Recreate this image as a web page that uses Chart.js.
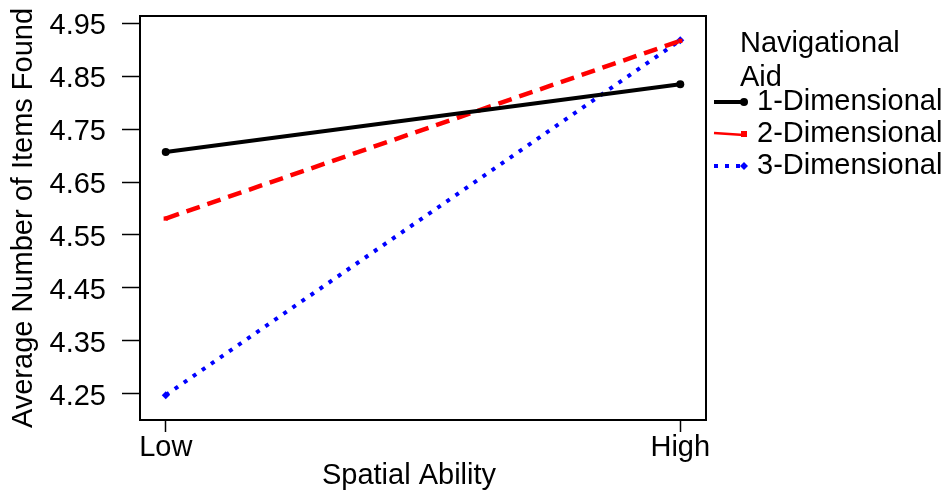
<!DOCTYPE html>
<html>
<head>
<meta charset="utf-8">
<script src="https://cdn.jsdelivr.net/npm/chart.js@4/dist/chart.umd.min.js"></script>
<style>
  body { margin: 0; background: #fff; }
  canvas { display: block; }
</style>
</head>
<body>
<canvas id="chart" width="944" height="491"></canvas>
<script>
// 數據
const spatialLevels = ['Low', 'High'];
const yTickValues = [4.25, 4.35, 4.45, 4.55, 4.65, 4.75, 4.85, 4.95];
const seriesNames = ['1-Dimensional', '2-Dimensional', '3-Dimensional'];
const oneDim = [4.707, 4.835];
const twoDim = [4.581, 4.917];
const threeDim = [4.247, 4.918];
const legendTitle = ['Navigational', 'Aid'];
const xTitle = 'Spatial Ability';
const yTitle = 'Average Number of Items Found';

const FONT = '"Liberation Sans", Arial, Helvetica, sans-serif';
const FSIZE = 29;

function toPoints(values) {
    return values.map((v, i) => ({ x: i, y: v }));
}

// 外框、x 軸標題、圖例
const framePlugin = {
    id: 'frame',
    afterDraw(chart) {
        const ctx = chart.ctx;
        const a = chart.chartArea;
        ctx.save();
        ctx.strokeStyle = '#000';
        ctx.lineWidth = 2;
        ctx.strokeRect(a.left, a.top, a.right - a.left, a.bottom - a.top);

        ctx.font = FSIZE + 'px ' + FONT;
        ctx.fillStyle = '#000';
        ctx.textBaseline = 'middle';
        ctx.textAlign = 'center';
        ctx.fillText(xTitle, 409, 476);

        // legend
        ctx.textAlign = 'left';
        ctx.fillText(legendTitle[0], 740, 44);
        ctx.fillText(legendTitle[1], 740, 78);

        const rows = [102, 134, 166];
        chart.data.datasets.forEach((ds, i) => {
            const y = rows[i];
            ctx.save();
            ctx.strokeStyle = ds.borderColor;
            ctx.lineWidth = i === 1 ? 2.5 : ds.borderWidth;
            ctx.setLineDash(i === 1 ? [] : ds.borderDash);
            ctx.beginPath();
            ctx.moveTo(714, y + (i === 1 ? -1 : 0));
            ctx.lineTo(744, y + (i === 1 ? 1 : 0));
            ctx.stroke();
            ctx.setLineDash([]);
            ctx.fillStyle = ds.borderColor;
            const r = ds.pointRadius;
            ctx.beginPath();
            if (ds.pointStyle === 'rectRot') {
                ctx.moveTo(744, y - r); ctx.lineTo(744 + r, y);
                ctx.lineTo(744, y + r); ctx.lineTo(744 - r, y);
                ctx.closePath();
            } else if (ds.pointStyle === 'rect') {
                ctx.rect(744 - r, y - r, 2 * r, 2 * r);
            } else {
                ctx.arc(744, y, r, 0, Math.PI * 2);
            }
            ctx.fill();
            ctx.restore();
            ctx.fillText(seriesNames[i], 757, y);
        });
        ctx.restore();
    }
};

const ctx = document.getElementById('chart').getContext('2d');
new Chart(ctx, {
    type: 'line',
    data: {
        datasets: [
            {
                label: seriesNames[0],
                data: toPoints(oneDim),
                borderColor: '#000000',
                backgroundColor: '#000000',
                borderWidth: 4,
                borderDash: [],
                pointStyle: 'circle',
                pointRadius: 4,
                pointBorderWidth: 0
            },
            {
                label: seriesNames[1],
                data: toPoints(twoDim),
                borderColor: '#ff0000',
                backgroundColor: '#ff0000',
                borderWidth: 4.5,
                borderDash: [14, 8],
                pointStyle: 'rect',
                pointRadius: 3,
                pointBorderWidth: 0
            },
            {
                label: seriesNames[2],
                data: toPoints(threeDim),
                borderColor: '#0000ff',
                backgroundColor: '#0000ff',
                borderWidth: 4,
                borderDash: [4, 7],
                pointStyle: 'rectRot',
                pointRadius: 4,
                pointBorderWidth: 0
            }
        ]
    },
    options: {
        responsive: false,
        animation: false,
        devicePixelRatio: 1,
        layout: { padding: { top: 0, right: 238, bottom: 0, left: 0 } },
        plugins: {
            legend: { display: false },
            tooltip: { enabled: false }
        },
        scales: {
            x: {
                type: 'linear',
                min: -0.05,
                max: 1.05,
                afterBuildTicks: s => { s.ticks = spatialLevels.map((_, i) => ({ value: i })); },
                afterFit: s => { s.height = 71; },
                border: { display: false },
                grid: {
                    drawOnChartArea: false,
                    tickLength: 12,
                    tickColor: '#000',
                    tickWidth: 1.5
                },
                ticks: {
                    padding: -1,
                    color: '#000',
                    maxRotation: 0,
                    font: { family: FONT, size: FSIZE },
                    callback: v => spatialLevels[v]
                }
            },
            y: {
                min: 4.2,
                max: 4.964,
                afterBuildTicks: s => { s.ticks = yTickValues.map(v => ({ value: v })); },
                afterFit: s => { s.width = 140; s.paddingTop = 16; s.paddingBottom = 0; },
                border: { display: false },
                grid: {
                    drawOnChartArea: false,
                    tickLength: 18,
                    tickColor: '#000',
                    tickWidth: 1.5
                },
                ticks: {
                    padding: 16,
                    labelOffset: 3,
                    color: '#000',
                    font: { family: FONT, size: FSIZE },
                    callback: v => v.toFixed(2)
                },
                title: {
                    display: true,
                    text: yTitle,
                    color: '#000',
                    font: { family: FONT, size: FSIZE },
                    padding: { top: 6.5, bottom: 0 }
                }
            }
        }
    },
    plugins: [framePlugin]
});
</script>
</body>
</html>
